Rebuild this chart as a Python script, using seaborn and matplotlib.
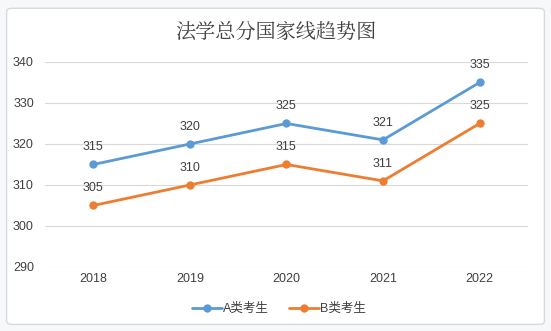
import matplotlib
matplotlib.use("Agg")
import matplotlib.pyplot as plt
from matplotlib.patches import FancyBboxPatch
import seaborn as sns
import pandas as pd

years = ["2018", "2019", "2020", "2021", "2022"]
series_a = [315, 320, 325, 321, 335]
series_b = [305, 310, 315, 311, 325]
series_names = ["A类考生", "B类考生"]
title = "法学总分国家线趋势图"
y_ticks = [290, 300, 310, 320, 330, 340]

colors = ["#5B9BD5", "#ED7D31"]

sns.set_theme(style="white")
plt.rcParams["font.family"] = ["Liberation Sans", "Noto Sans CJK SC", "DejaVu Sans"]

df = pd.DataFrame({
    "year": years * 2,
    "score": series_a + series_b,
    "group": [series_names[0]] * len(years) + [series_names[1]] * len(years),
})

fig = plt.figure(figsize=(5.51, 3.31), dpi=100)
fig.patch.set_facecolor("#F7F8FA")
card = FancyBboxPatch((0.012, 0.02), 0.976, 0.955,
                      boxstyle="round,pad=0,rounding_size=0.01",
                      transform=fig.transFigure, facecolor="white",
                      edgecolor="#D6D9DE", linewidth=1.0, zorder=-10)
fig.patches.append(card)

ax = fig.add_axes([0.0817, 0.1934, 0.8763, 0.6193])
ax.set_facecolor("none")

sns.lineplot(data=df, x="year", y="score", hue="group", palette=colors,
             marker="o", markersize=6, markeredgewidth=0, linewidth=2.0,
             ax=ax, legend=True, sort=False)

ax.set_ylim(290, 340)
ax.set_xlim(-0.5, len(years) - 0.5)
ax.set_yticks(y_ticks)
ax.yaxis.grid(True, color="#D9D9D9", linewidth=0.8)
ax.xaxis.grid(False)
for s in ax.spines.values():
    s.set_visible(False)
ax.tick_params(axis="both", length=0, labelsize=9, labelcolor="#404040")
ax.tick_params(axis="y", pad=8)
ax.tick_params(axis="x", pad=4)
ax.set_xlabel("")
ax.set_ylabel("")

for vals in (series_a, series_b):
    for i, v in enumerate(vals):
        ax.annotate(str(v), (i, v), xytext=(0, 8), textcoords="offset points",
                    ha="center", va="bottom", fontsize=9, color="#404040")

fig.text(0.5, 0.905, title, ha="center", va="center", fontsize=14.5,
         color="#404040", family=["Noto Serif CJK SC", "Noto Sans CJK SC", "DejaVu Sans"])

handles, labels = ax.get_legend_handles_labels()
ax.legend(handles, labels, loc="center", bbox_to_anchor=(0.485, -0.205),
          ncol=2, frameon=False, fontsize=9, handlelength=2.4,
          columnspacing=1.6, handletextpad=0.1, labelcolor="#404040")

fig.savefig("out.png", dpi=100, facecolor=fig.get_facecolor())
